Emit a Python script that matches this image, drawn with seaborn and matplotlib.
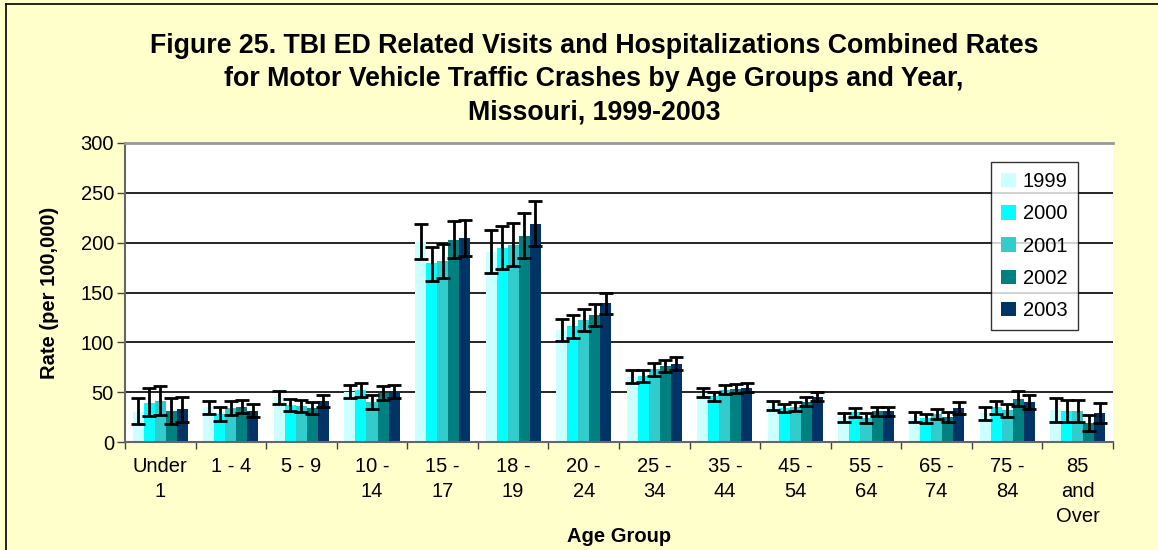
import numpy as np
import pandas as pd
import matplotlib
matplotlib.use('Agg')
import matplotlib.pyplot as plt
import seaborn as sns
from matplotlib.lines import Line2D

age_groups = ['Under\n1', '1 - 4', '5 - 9', '10 -\n14', '15 -\n17', '18 -\n19', '20 -\n24',
              '25 -\n34', '35 -\n44', '45 -\n54', '55 -\n64', '65 -\n74', '75 -\n84', '85\nand\nOver']
years = ['1999', '2000', '2001', '2002', '2003']

rate_1999 = [30, 35, 45, 50, 201, 191, 112, 65, 49, 36, 25, 25, 29, 32]
rate_2000 = [39, 28, 37, 52, 180, 195, 116, 66, 46, 34, 30, 24, 35, 31]
rate_2001 = [41, 34, 36, 40, 182, 198, 122, 73, 52, 35, 24, 28, 32, 31]
rate_2002 = [31, 35, 34, 49, 203, 207, 127, 76, 53, 40, 31, 25, 43, 19]
rate_2003 = [33, 31, 41, 50, 205, 219, 139, 78, 54, 45, 31, 34, 40, 29]

lower_1999 = [18, 28, 38, 44, 184, 170, 101, 59, 45, 32, 20, 20, 22, 20]
lower_2000 = [26, 21, 31, 45, 162, 174, 104, 60, 41, 30, 25, 19, 28, 20]
lower_2001 = [27, 27, 30, 33, 165, 177, 111, 66, 48, 31, 19, 23, 25, 20]
lower_2002 = [18, 29, 28, 42, 185, 185, 116, 70, 49, 36, 26, 20, 36, 11]
lower_2003 = [20, 25, 35, 44, 187, 197, 128, 72, 50, 41, 26, 28, 33, 19]

upper_1999 = [44, 41, 51, 57, 219, 213, 123, 72, 54, 41, 29, 30, 35, 44]
upper_2000 = [54, 35, 43, 59, 196, 217, 127, 72, 50, 38, 34, 28, 41, 42]
upper_2001 = [56, 41, 42, 47, 199, 220, 133, 79, 57, 40, 29, 33, 38, 42]
upper_2002 = [44, 42, 40, 56, 222, 230, 138, 82, 58, 45, 35, 30, 51, 27]
upper_2003 = [45, 38, 47, 57, 223, 242, 150, 85, 59, 50, 35, 40, 47, 39]

colors = ['#CCFFFF', '#00FFFF', '#33CCCC', '#008080', '#003366']

title_lines = ['Figure 25. TBI ED Related Visits and Hospitalizations Combined Rates',
               'for Motor Vehicle Traffic Crashes by Age Groups and Year,',
               'Missouri, 1999-2003']

rates = [rate_1999, rate_2000, rate_2001, rate_2002, rate_2003]
lowers = [lower_1999, lower_2000, lower_2001, lower_2002, lower_2003]
uppers = [upper_1999, upper_2000, upper_2001, upper_2002, upper_2003]

df = pd.DataFrame({
    'Age Group': np.tile(age_groups, len(years)),
    'Year': np.repeat(years, len(age_groups)),
    'Rate': np.concatenate(rates),
})

plt.rcParams['font.family'] = ['Liberation Sans', 'DejaVu Sans']

W, H = 1158, 550
fig = plt.figure(figsize=(W / 100, H / 100), dpi=100, facecolor='#FFFFCC')
ax = fig.add_axes([125 / W, 1 - 442 / H, (1113 - 125) / W, (442 - 143) / H])
ax.set_facecolor('white')

sns.barplot(data=df, x='Age Group', y='Rate', hue='Year', palette=colors, errorbar=None,
            width=0.78, gap=0, saturation=1, linewidth=0, ax=ax, zorder=2)

# confidence intervals drawn on top of each bar
for cont, r, lo, up in zip(ax.containers, rates, lowers, uppers):
    xs = [p.get_x() + p.get_width() / 2 for p in cont.patches]
    r = np.array(r)
    yerr = [r - np.array(lo), np.array(up) - r]
    ax.errorbar(xs, r, yerr=yerr, fmt='none', ecolor='black', elinewidth=2,
                capsize=5, capthick=2, zorder=4)

ax.set_ylim(0, 300)
ax.set_yticks(range(0, 301, 50))
ax.set_xlim(-0.5, len(age_groups) - 0.5)
ax.yaxis.grid(True, color='black', linewidth=1.2, zorder=0)
ax.set_axisbelow(True)

ax.set_xticks(np.arange(len(age_groups)))
ax.set_xticklabels(age_groups, fontsize=14.5, linespacing=1.4, va='top')
ax.set_xticks(np.arange(-0.5, len(age_groups), 1), minor=True)
ax.tick_params(axis='x', which='major', length=0, pad=11)
ax.tick_params(axis='x', which='minor', length=5, width=1, color='#444444')
ax.tick_params(axis='y', labelsize=14.5, length=6, width=1, color='#444444', pad=2)

for s in ['left', 'bottom']:
    ax.spines[s].set_color('#666666')
    ax.spines[s].set_linewidth(1.5)
ax.spines['top'].set_color('#999999')
ax.spines['top'].set_linewidth(2)
ax.spines['right'].set_visible(False)

ax.set_xlabel('Age Group', fontsize=14.5, fontweight='bold')
ax.set_ylabel('Rate (per 100,000)', fontsize=14.5, fontweight='bold')
ax.xaxis.set_label_coords(0.5, -(536 - 442) / 299)
ax.xaxis.label.set_va('center')
ax.yaxis.set_label_coords(-(125 - 50) / 988, 0.5)
ax.yaxis.label.set_va('center')

leg = ax.legend(loc='upper left', bbox_to_anchor=((991 - 125) / 988, (442 - 162) / 299),
                fontsize=14.5, frameon=True, fancybox=False, edgecolor='black',
                handlelength=0.72, handleheight=0.72, handletextpad=0.35,
                labelspacing=0.66, borderpad=0.5, borderaxespad=0, title=None)
leg.get_frame().set_linewidth(1)

for txt, yc in zip(title_lines, [46, 79, 112]):
    fig.text(594 / W, 1 - yc / H, txt, ha='center', va='center', fontsize=19.3, fontweight='bold')

# chart border (top and left edges visible in the crop)
fig.add_artist(Line2D([6 / W, 6 / W], [0, 1 - 4 / H], transform=fig.transFigure, color='black', lw=1.2))
fig.add_artist(Line2D([6 / W, 1], [1 - 4 / H, 1 - 4 / H], transform=fig.transFigure, color='black', lw=1.2))

fig.savefig('out.png', dpi=100, facecolor=fig.get_facecolor())
